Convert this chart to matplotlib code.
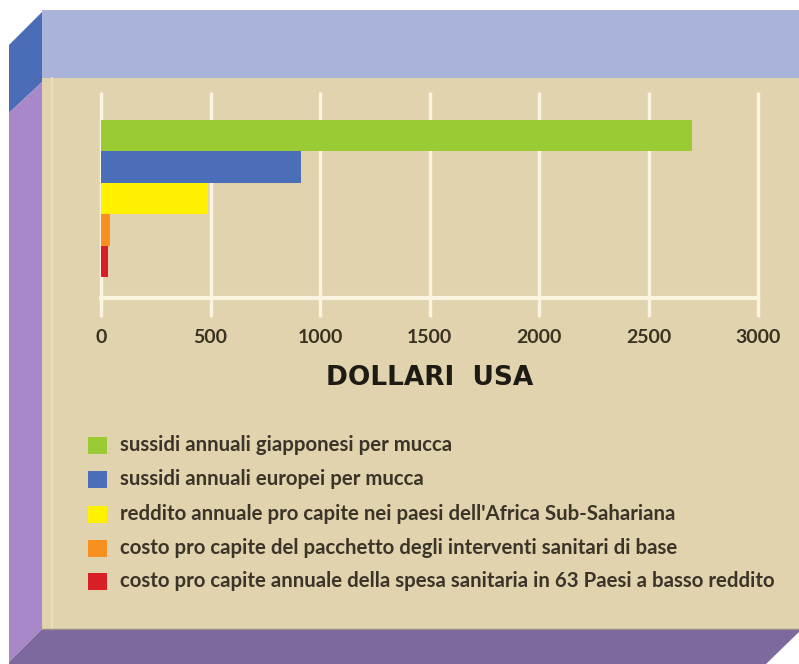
import matplotlib
matplotlib.use("Agg")
import matplotlib.pyplot as plt
from matplotlib.patches import Polygon, Rectangle

# ---- data ----
categories = [
    "sussidi annuali giapponesi per mucca",
    "sussidi annuali europei per mucca",
    "reddito annuale pro capite nei paesi dell'Africa Sub-Sahariana",
    "costo pro capite del pacchetto degli interventi sanitari di base",
    "costo pro capite annuale della spesa sanitaria in 63 Paesi a basso reddito",
]
values = [2700, 915, 490, 40, 32]
colors = ["#9acb34", "#4a6fb8", "#fff100", "#f7901e", "#d91f26"]
xticks = [0, 500, 1000, 1500, 2000, 2500, 3000]
xlabel = "DOLLARI  USA"

W, H = 799, 664
fig = plt.figure(figsize=(W / 100, H / 100), dpi=100)
fig.patch.set_facecolor("white")

# background decoration axes in pixel coordinates
bg = fig.add_axes([0, 0, 1, 1])
bg.set_xlim(0, W)
bg.set_ylim(H, 0)
bg.axis("off")

beige = "#e0d3ad"
bg.add_patch(Rectangle((42, 78), W - 42, 551, facecolor=beige, edgecolor="none"))
bg.add_patch(Rectangle((42, 10), W - 42, 68, facecolor="#aab3d8", edgecolor="none"))
bg.add_patch(Polygon([(9, 45), (42, 12), (42, 82), (9, 113)], closed=True,
                     facecolor="#4b6cb7", edgecolor="none"))
bg.add_patch(Polygon([(9, 113), (42, 82), (42, 629), (9, 662)], closed=True,
                     facecolor="#a888c8", edgecolor="none"))
bg.add_patch(Polygon([(42, 629), (W, 629), (W, 632), (766, 664), (9, 664), (9, 662)],
                     closed=True, facecolor="#7e699e", edgecolor="none"))
bg.plot([52, 52], [78, 629], color="#e9dec2", lw=1.5)
bg.plot([42, W], [629, 629], color="#9c8e86", lw=1)

# legend drawn in pixel space
txt_font = ["Lato", "DejaVu Sans"]
leg_y = [445, 479, 514, 548, 581]
for cat, col, yy in zip(categories, colors, leg_y):
    bg.add_patch(Rectangle((88, yy - 8.5), 19, 17, facecolor=col, edgecolor="none"))
    bg.text(120, yy, cat, fontsize=14.7, family=txt_font, fontweight="bold",
            color="#3c3428", va="center", ha="left")

# data axes
x0, x1 = 101, 758
ytop, ybot = 92, 298
ax = fig.add_axes([x0 / W, 1 - ybot / H, (x1 - x0) / W, (ybot - ytop) / H])
ax.set_facecolor("none")
ypos = list(range(len(values)))
ax.barh(ypos, values, height=1.0, color=colors, zorder=3)
ax.set_xlim(0, 3000)
ax.set_ylim(5.17, -1.39)
ax.set_yticks([])
ax.set_xticks(xticks)
ax.set_xticklabels([str(t) for t in xticks], fontsize=14, family=txt_font,
                   fontweight="bold", color="#3b3322")
ax.tick_params(axis="x", length=0, pad=22)
for s in ax.spines.values():
    s.set_visible(False)
grid_col = "#fbf4e0"
for t in xticks:
    ax.plot([t, t], [-1.39, 5.17 + 0.6], color=grid_col, lw=2.5, zorder=2,
            clip_on=False, solid_capstyle="butt")
ax.plot([0, 3000], [5.17, 5.17], color=grid_col, lw=3, zorder=2, clip_on=False)

fig.text((x0 + x1) / 2 / W, 1 - 378 / H, xlabel, fontsize=19, fontweight="bold",
         color="#1e1a14", ha="center", va="center", family="DejaVu Sans")

fig.savefig("out.png", dpi=100, facecolor="white")
